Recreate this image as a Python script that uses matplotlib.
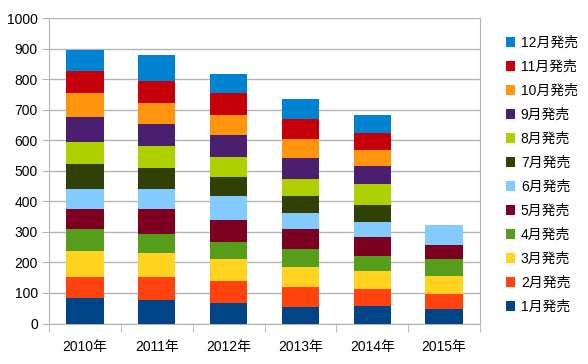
import matplotlib
matplotlib.use("Agg")
import matplotlib.pyplot as plt
import numpy as np

plt.rcParams['font.family'] = ['Liberation Sans', 'Noto Sans CJK JP', 'DejaVu Sans']

years = ["2010年", "2011年", "2012年", "2013年", "2014年", "2015年"]
months = ["1月発売", "2月発売", "3月発売", "4月発売", "5月発売", "6月発売",
          "7月発売", "8月発売", "9月発売", "10月発売", "11月発売", "12月発売"]
colors = ["#004586", "#ff420e", "#ffd320", "#579d1c", "#7e0021", "#83caff",
          "#314004", "#aecf00", "#4b1f6f", "#ff950e", "#c5000b", "#0084d1"]

y2010 = [84, 69, 85, 71, 65, 67, 80, 73, 81, 80, 71, 70]
y2011 = [76, 77, 77, 64, 80, 67, 67, 72, 72, 70, 72, 84]
y2012 = [68, 72, 72, 54, 72, 79, 62, 65, 72, 67, 72, 62]
y2013 = [53, 67, 64, 59, 65, 54, 56, 54, 69, 62, 67, 64]
y2014 = [58, 54, 59, 51, 60, 51, 56, 68, 59, 51, 57, 59]
y2015 = [47, 50, 59, 56, 46, 64, 0, 0, 0, 0, 0, 0]

data = np.array([y2010, y2011, y2012, y2013, y2014, y2015])  # years x months

fig = plt.figure(figsize=(5.88, 3.64), dpi=100)
ax = fig.add_axes([49/588, 1-323.5/364, (480-49)/588, (323.5-18)/364])

x = np.arange(len(years))
bottom = np.zeros(len(years))
handles = []
for m in range(12):
    vals = data[:, m]
    h = ax.bar(x, vals, width=0.52, bottom=bottom, color=colors[m], label=months[m], zorder=3)
    handles.append(h)
    bottom += vals

ax.set_xlim(-0.5, len(years) - 0.5)
ax.set_ylim(0, 1000)
ax.set_yticks(np.arange(0, 1001, 100))
ax.set_xticks(x)
ax.set_xticklabels(years)
ax.set_xticks(np.arange(-0.5, len(years)), minor=True)
ax.tick_params(axis='x', which='major', length=0, pad=12, labelsize=10)
ax.tick_params(axis='x', which='minor', length=6, color='#b3b3b3')
ax.tick_params(axis='y', length=5, color='#b3b3b3', labelsize=10, pad=3)
ax.grid(axis='y', color='#b3b3b3', linewidth=1, zorder=0)
for side in ['left', 'right', 'bottom', 'top']:
    ax.spines[side].set_color('#b3b3b3')
ax.spines['top'].set_visible(False)

leg = fig.legend(handles[::-1], months[::-1], loc='upper left',
                 bbox_to_anchor=(500/588, 1-30/364), frameon=False,
                 fontsize=10, handlelength=0.7, handleheight=0.7,
                 handletextpad=0.4, labelspacing=0.72, borderaxespad=0)

fig.savefig("out.png", dpi=100)
